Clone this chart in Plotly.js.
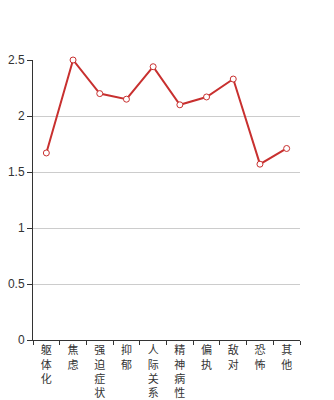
<!DOCTYPE html>
<html><head><meta charset="utf-8">
<script src="https://cdn.plot.ly/plotly-3.0.1.min.js"></script>
<style>html,body{margin:0;padding:0;background:#fff;}#chart{width:334px;height:400px;}</style>
</head><body><div id="chart"></div>
<script>
const categories = ['躯体化','焦虑','强迫症状','抑郁','人际关系','精神病性','偏执','敌对','恐怖','其他'];
const values = [1.67, 2.50, 2.20, 2.15, 2.44, 2.10, 2.17, 2.33, 1.57, 1.71];
const yTickVals = [0, 0.5, 1, 1.5, 2, 2.5];
const yTickText = ['0', '0.5', '1', '1.5', '2', '2.5'];

const stacked = categories.map(c => c.split('').join('<br>'));

Plotly.newPlot('chart', [{
  type: 'scatter', mode: 'lines+markers',
  x: categories, y: values,
  line: {color: '#c8302f', width: 2},
  marker: {symbol: 'circle', size: 6, color: '#ffffff', line: {color: '#c8302f', width: 1}},
  cliponaxis: false, hoverinfo: 'none'
}], {
  width: 334, height: 400,
  margin: {l: 33, r: 34, t: 60, b: 60},
  paper_bgcolor: '#fff', plot_bgcolor: '#fff',
  showlegend: false,
  font: {family: '"Noto Sans CJK SC", "Liberation Sans", Arial, sans-serif', size: 12, color: '#333'},
  xaxis: {
    type: 'category', range: [-0.5, 9.5],
    tickmode: 'array', tickvals: categories, ticktext: stacked,
    tickson: 'boundaries', ticks: 'outside', ticklen: 4, tickcolor: '#333',
    showline: true, linecolor: '#333', linewidth: 1,
    showgrid: false, zeroline: false,
    tickfont: {family: '"Noto Sans CJK SC", sans-serif', size: 11, color: '#333'}
  },
  yaxis: {
    range: [0, 2.5], tickmode: 'array', tickvals: yTickVals, ticktext: yTickText,
    ticks: 'outside', ticklen: 5, tickcolor: '#333',
    showline: true, linecolor: '#333', linewidth: 1,
    showgrid: true, gridcolor: '#cccccc', zeroline: false,
    tickfont: {family: '"Liberation Sans", Arial, sans-serif', size: 12, color: '#333'}
  }
}, {displayModeBar: false, staticPlot: true});
</script></body></html>
